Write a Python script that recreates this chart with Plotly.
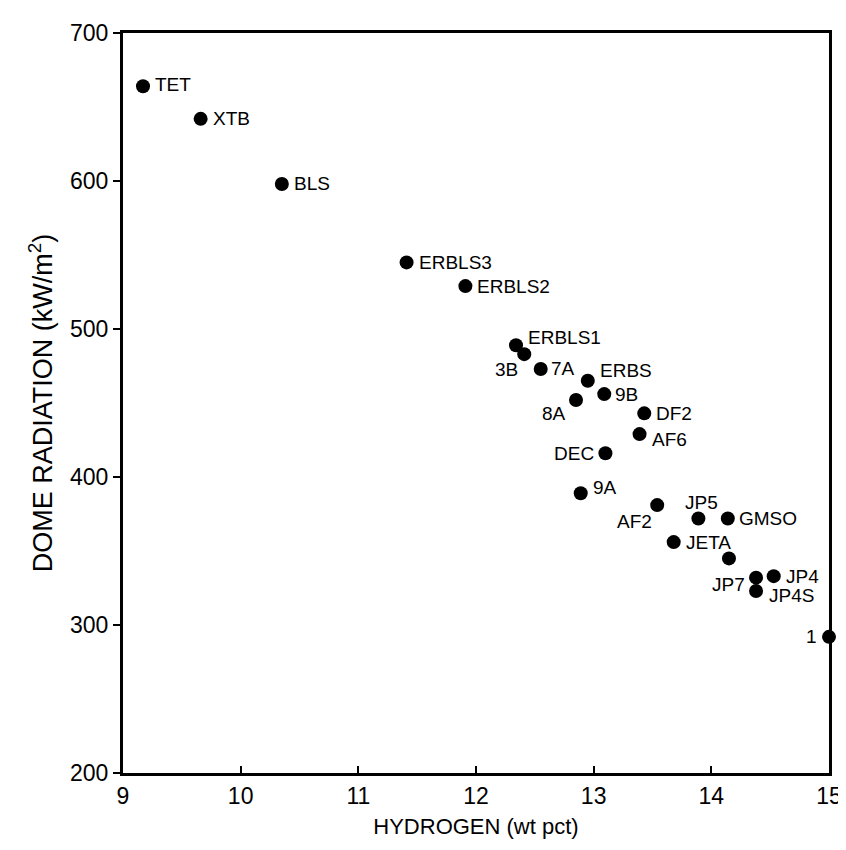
import plotly.graph_objects as go

fuels = ["TET", "XTB", "BLS", "ERBLS3", "ERBLS2", "ERBLS1", "3B", "7A", "ERBS", "8A",
         "9B", "DF2", "AF6", "DEC", "9A", "AF2", "JP5", "GMSO", "JETA", "",
         "JP7", "JP4S", "JP4", "1"]
hydrogen = [9.17, 9.66, 10.35, 11.41, 11.91, 12.34, 12.41, 12.55, 12.95, 12.85,
            13.09, 13.43, 13.39, 13.10, 12.89, 13.54, 13.89, 14.14, 13.68, 14.15,
            14.38, 14.38, 14.53, 15.0]
radiation = [664, 642, 598, 545, 529, 489, 483, 473, 465, 452,
             456, 443, 429, 416, 389, 381, 372, 372, 356, 345,
             332, 323, 333, 292]

# label placement (style): anchor, x offset px, y offset px
label_style = [("left", 10, 2), ("left", 10, 0), ("left", 10, 0), ("left", 10, 0), ("left", 10, 0),
               ("left", 10, 8), ("right", -4, -15), ("left", 8, 0), ("left", 10, 10), ("right", -8, -13),
               ("left", 9, 0), ("left", 10, 0), ("left", 10, -5), ("right", -9, 0), ("left", 10, 6),
               ("right", -3, -16), ("center", 3, 16), ("left", 9, 0), ("left", 10, 0), ("left", 10, 0),
               ("right", -9, -7), ("left", 11, -5), ("left", 10, 0), ("right", -10, 0)]

x_ticks = [9, 10, 11, 12, 13, 14, 15]
y_ticks = [200, 300, 400, 500, 600, 700]

FONT = "Liberation Sans, Arial, Helvetica, sans-serif"

fig = go.Figure()
fig.add_trace(go.Scatter(
    x=hydrogen, y=radiation, mode="markers",
    marker=dict(color="black", size=14),
    cliponaxis=False, showlegend=False, hoverinfo="x+y",
))

annotations = []
for name, xv, yv, (anc, dx, dy) in zip(fuels, hydrogen, radiation, label_style):
    if not name:
        continue
    annotations.append(dict(
        x=xv, y=yv, xref="x", yref="y", text=name, showarrow=False,
        xanchor=anc, yanchor="middle", xshift=dx, yshift=dy,
        font=dict(family=FONT, size=19, color="black"),
    ))

fig.update_layout(
    width=846, height=850,
    margin=dict(l=115, r=13, t=20, b=85),
    paper_bgcolor="white", plot_bgcolor="white",
    font=dict(family=FONT, color="black"),
    annotations=annotations,
    xaxis=dict(
        range=[9, 15], tickvals=x_ticks, ticktext=[str(v) for v in x_ticks],
        showgrid=False, zeroline=False,
        showline=True, linecolor="black", linewidth=3, mirror=True,
        ticks="inside", ticklen=7, tickwidth=2, tickcolor="black",
        tickfont=dict(size=23, family=FONT),
        title=dict(text="HYDROGEN (wt pct)", font=dict(size=22, family=FONT), standoff=12),
    ),
    yaxis=dict(
        range=[200, 700], tickvals=y_ticks, ticktext=[str(v) for v in y_ticks],
        showgrid=False, zeroline=False,
        showline=True, linecolor="black", linewidth=3, mirror=True,
        ticks="outside", ticklen=7, tickwidth=2, tickcolor="black",
        tickfont=dict(size=23, family=FONT),
        title=dict(text="DOME RADIATION (kW/m<sup>2</sup>)", font=dict(size=27, family=FONT), standoff=10),
    ),
)

fig.write_html("out.html")
